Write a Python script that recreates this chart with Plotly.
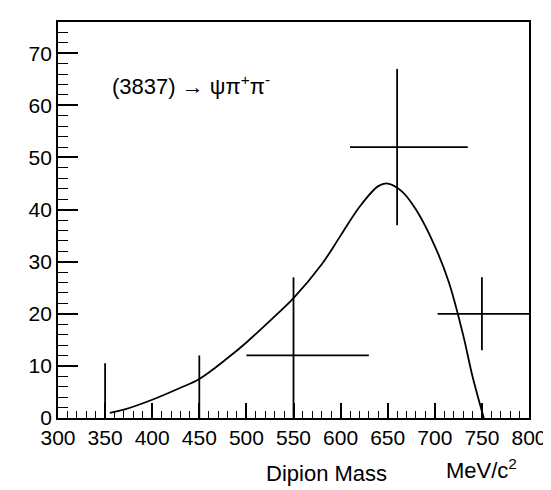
import plotly.graph_objs as go

# data points
pt_x = [350, 450, 550, 660, 750]
pt_y = [0, 0, 12, 52, 20]
pt_err_up = [10.5, 12, 15, 15, 7]
pt_err_dn = [0, 0, 12, 15, 7]
pt_xerr_lo = [0, 0, 50, 50, 47]
pt_xerr_hi = [0, 0, 80, 75, 50]

# fitted curve
fit_x = [355, 370, 400, 430, 450, 480, 500, 530, 550, 580, 600, 620, 640, 650, 665, 680, 700, 715, 730, 740, 752]
fit_y = [1, 1.6, 3.5, 5.8, 7.5, 11.5, 14.5, 19.5, 23, 29.5, 35, 40.5, 44.5, 45, 43.5, 40, 33, 26, 16, 8, 0]

fig = go.Figure()
fig.add_trace(go.Scatter(x=fit_x, y=fit_y, mode="lines", line=dict(color="black", width=1.8, shape="spline")))
fig.add_trace(go.Scatter(
    x=pt_x, y=pt_y, mode="markers", marker=dict(size=1, color="black"),
    error_y=dict(type="data", symmetric=False, array=pt_err_up, arrayminus=pt_err_dn, color="black", thickness=1.8, width=0),
    error_x=dict(type="data", symmetric=False, array=pt_xerr_hi, arrayminus=pt_xerr_lo, color="black", thickness=1.8, width=0),
))

font = dict(family="Liberation Sans, Arial", size=22, color="black")
tfont = dict(family="Liberation Sans, Arial", size=21, color="black")
fig.update_layout(
    width=551, height=490, showlegend=False,
    paper_bgcolor="white", plot_bgcolor="white",
    margin=dict(l=50, r=23, t=12, b=80),
    font=font,
    xaxis=dict(range=[300, 800], tickvals=list(range(300, 801, 50)), ticks="inside", ticklen=15,
               tickwidth=1.5, tickcolor="black", showline=True, mirror=True, linecolor="black",
               linewidth=1.8, showgrid=False, zeroline=False, tickfont=tfont,
               minor=dict(dtick=10, ticks="inside", ticklen=7, tickcolor="black", tickwidth=1.2)),
    yaxis=dict(range=[0, 76], tickvals=list(range(0, 71, 10)), ticks="inside", ticklen=20,
               tickwidth=1.5, tickcolor="black", showline=True, mirror=True, linecolor="black",
               linewidth=1.8, showgrid=False, zeroline=False, tickfont=tfont,
               minor=dict(dtick=2, ticks="inside", ticklen=10, tickcolor="black", tickwidth=1.2)),
    annotations=[
        dict(text="(3837) → ψπ<sup>+</sup>π<sup>-</sup>", x=0.11, y=0.84, xref="paper", yref="paper",
             xanchor="left", yanchor="middle", showarrow=False, font=font),
        dict(text="Dipion Mass", x=0.57, y=-0.14, xref="paper", yref="paper",
             xanchor="center", yanchor="middle", showarrow=False, font=font),
        dict(text="MeV/c<sup>2</sup>", x=0.9, y=-0.13, xref="paper", yref="paper",
             xanchor="center", yanchor="middle", showarrow=False, font=font),
    ],
)
fig.write_html("out.html")
